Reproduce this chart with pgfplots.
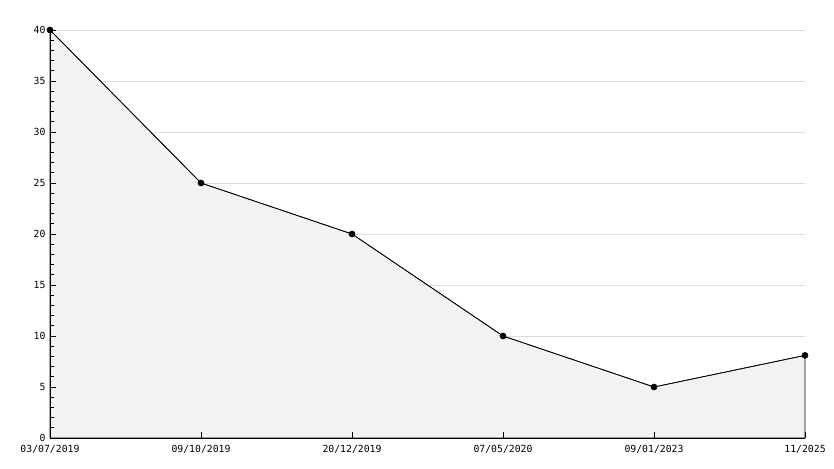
\documentclass[border=0pt]{standalone}
\usepackage{pgfplots}
\pgfplotsset{compat=1.18}
\usepackage{fontspec}
\setmonofont{DejaVu Sans Mono}
\definecolor{fillgray}{HTML}{F2F2F2}
\definecolor{gridgray}{HTML}{DDDDDD}
\begin{document}
\begin{tikzpicture}[x=1pt,y=1pt]
\useasboundingbox (0,0) rectangle (834,468);
\begin{axis}[
  at={(50pt,30pt)}, anchor=south west,
  scale only axis, width=755pt, height=408pt,
  xmin=0, xmax=5, ymin=0, ymax=40,
  axis x line=bottom, axis y line=left,
  axis line style={-, line width=0.8pt},
  axis on top,
  xtick={0,1,2,3,4,5},
  xticklabels={03/07/2019,09/10/2019,20/12/2019,07/05/2020,09/01/2023,11/2025},
  ytick={0,5,...,40},
  minor y tick num=4,
  tick align=inside,
  major tick length=6pt, minor tick length=4pt,
  tick style={black, line width=0.6pt},
  tick label style={font=\ttfamily\fontsize{9.8}{10}\selectfont},
  /pgf/number format/assume math mode=true,
  yticklabel style={xshift=-1pt},
  xticklabel style={yshift=-4pt},
  clip=false,
]
\foreach \g in {5,10,...,40} {
  \edef\temp{\noexpand\draw[gridgray, line width=0.6pt] (axis cs:0,\g) -- (axis cs:5,\g);}
  \temp
}
\addplot[fill=fillgray, draw=black, line width=0.75pt] coordinates {(0,40) (1,25) (2,20) (3,10) (4,5) (5,8.1)} \closedcycle;
\addplot[black, line width=0.6pt, mark=*, mark size=3pt] coordinates {(0,40) (1,25) (2,20) (3,10) (4,5) (5,8.1)};
\end{axis}
\end{tikzpicture}
\end{document}
